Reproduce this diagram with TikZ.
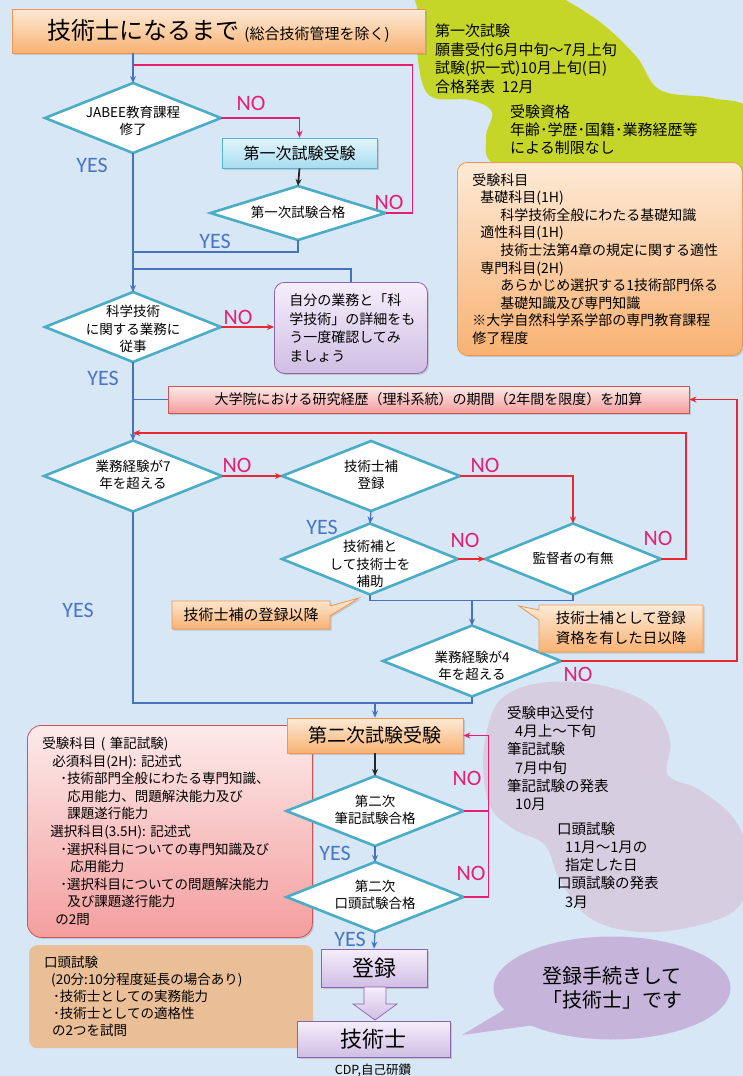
\documentclass[tikz,border=0pt]{standalone}
\usepackage{fontspec}
\setmainfont{Noto Sans CJK JP}
\newfontfamily\yn{Carlito}
\usetikzlibrary{shapes.geometric,shapes.callouts,shadows,arrows.meta}
\newcommand{\myfs}[2]{\fontsize{#1}{#2}\selectfont}
\definecolor{bgblue}{RGB}{216,231,245}
\definecolor{diab}{RGB}{75,172,198}
\definecolor{flowblue}{RGB}{70,115,190}
\definecolor{redl}{RGB}{232,40,50}
\definecolor{pinkl}{RGB}{232,30,110}
\definecolor{yesc}{RGB}{72,118,196}
\definecolor{noc}{RGB}{232,30,115}
\definecolor{greenb}{RGB}{198,214,40}
\definecolor{lavb}{RGB}{214,206,224}
\definecolor{orT}{RGB}{253,234,214}
\definecolor{orB}{RGB}{248,178,115}
\definecolor{orD}{RGB}{240,150,80}
\definecolor{pkT}{RGB}{253,234,234}
\definecolor{pkB}{RGB}{244,158,158}
\definecolor{pkD}{RGB}{205,85,85}
\definecolor{puT}{RGB}{245,238,251}
\definecolor{puB}{RGB}{208,190,228}
\definecolor{puD}{RGB}{140,100,170}
\definecolor{cyT}{RGB}{228,245,252}
\definecolor{cyB}{RGB}{168,220,240}
\definecolor{cyD}{RGB}{80,180,210}
\definecolor{tanb}{RGB}{234,190,150}
\definecolor{bubble}{RGB}{198,180,218}
\tikzset{
  dia/.style={diamond, draw=diab, line width=2.6pt, fill=white, inner sep=0pt, outer sep=0pt},
  dtxt/.style={align=center, font=\myfs{13.5}{17.5}, inner sep=0pt, text=black},
  yes/.style={text=yesc, font=\yn\myfs{22}{22}, inner sep=0pt},
  no/.style={text=noc, font=\yn\myfs{22}{22}, inner sep=0pt},
  bl/.style={draw=flowblue, line width=1.2pt},
  rd/.style={draw=redl, line width=1.2pt},
  pk/.style={draw=pinkl, line width=1.6pt},
  bk/.style={draw=black!85, line width=1.8pt},
  tip/.style={-{Stealth[length=7pt,width=6pt]}},
  shad/.style={drop shadow={shadow xshift=1.5pt,shadow yshift=-1.5pt,opacity=0.3}},
  orbox/.style={draw=orD, line width=0.8pt, top color=orT, bottom color=orB, inner sep=0pt, shad},
  pkbox/.style={draw=pkD, line width=0.8pt, top color=pkT, bottom color=pkB, inner sep=0pt, shad},
  pubox/.style={draw=puD, line width=0.8pt, top color=puT, bottom color=puB, inner sep=0pt, shad},
  cybox/.style={draw=cyD, line width=0.8pt, top color=cyT, bottom color=cyB, inner sep=0pt, shad},
  txtbox/.style={align=left, anchor=north west, inner xsep=15pt, inner ysep=0pt},
  plain/.style={align=left, anchor=north west, inner sep=0pt},
}
\begin{document}
\begin{tikzpicture}[x=1pt,y=-1pt]
\useasboundingbox (0,0) rectangle (743,1076);
\fill[bgblue] (0,0) rectangle (743,1076);
\begin{scope}
\clip (0,0) rectangle (743,1076);
\fill[greenb] plot[smooth cycle, tension=0.6] coordinates {(423,-15) (525,-15) (590,15) (635,55) (660,90) (712,98) (752,112) (752,178) (690,172) (590,168) (498,165) (486,138) (492,112) (470,100) (430,96) (418,60) (418,15)};
\fill[lavb] plot[smooth cycle, tension=0.6] coordinates {(485,740) (500,700) (540,683) (600,685) (650,705) (670,740) (668,775) (700,790) (735,820) (748,860) (740,905) (700,925) (640,932) (590,918) (560,880) (545,845) (515,830) (492,810) (484,780)};
\end{scope}

% title
\node[orbox, minimum width=413pt, minimum height=44pt] (title) at (218.5,31)
  {{\myfs{24}{28}技術士になるまで}\hspace{5pt}{\myfs{15}{18}(総合技術管理を除く)}};

% green blob texts
\node[plain, font=\myfs{15}{18.5}] (g1) at (435,24)
  {第一次試験\\願書受付6月中旬～7月上旬\\試験(択一式)10月上旬(日)\\合格発表\ \ 12月};
\node[plain, font=\myfs{15}{18}] (g2) at (510,105)
  {受験資格\\年齢･学歴･国籍･業務経歴等\\による制限なし};

% orange subjects box
\node[orbox, txtbox, rounded corners=10pt, text width=255pt, minimum height=193pt, font=\myfs{14}{17.6}] (obox) at (457,162)
  {受験科目\\
   \hspace*{8pt}基礎科目(1H)\\
   \hspace*{28pt}科学技術全般にわたる基礎知識\\
   \hspace*{8pt}適性科目(1H)\\
   \hspace*{28pt}技術士法第4章の規定に関する適性\\
   \hspace*{8pt}専門科目(2H)\\
   \hspace*{28pt}あらかじめ選択する1技術部門係る\\
   \hspace*{28pt}基礎知識及び専門知識\\
   ※大学自然科学系学部の専門教育課程\\
   修了程度};

% diamonds
\node[dia, minimum width=176pt, minimum height=70pt] (d1) at (133,118) {};
\node[dtxt] (t1) at (133,121) {JABEE教育課程\\修了};
\node[cybox, minimum width=155pt, minimum height=30pt, font=\myfs{16}{18}] (b1) at (299.5,153) {第一次試験受験};
\node[dia, minimum width=175pt, minimum height=54pt] (d2) at (298,213) {};
\node[dtxt] (t2) at (298,212) {第一次試験合格};
\node[dia, minimum width=176pt, minimum height=70pt] (d3) at (133,327) {};
\node[dtxt] (t3) at (133,329) {科学技術\\に関する業務に\\従事};
\node[pubox, txtbox, rounded corners=10pt, text width=123pt, minimum height=91pt, font=\myfs{14}{18.5}] (pbox) at (274,282)
  {自分の業務と「科\\学技術」の詳細をも\\う一度確認してみ\\ましょう};
\node[pkbox, minimum width=521pt, minimum height=27pt, font=\myfs{14}{16}] (ubox) at (428.5,399.5)
  {大学院における研究経歴（理科系統）の期間（2年間を限度）を加算};

\node[dia, minimum width=178pt, minimum height=71pt] (d4) at (133,476) {};
\node[dtxt] (t4) at (133,475) {業務経験が7\\年を超える};
\node[dia, minimum width=178pt, minimum height=70pt] (d5) at (371,476) {};
\node[dtxt] (t5) at (371,475) {技術士補\\登録};
\node[dia, minimum width=176pt, minimum height=71pt] (d6) at (370,559) {};
\node[dtxt] (t6) at (370,564) {技術補と\\して技術士を\\補助};
\node[dia, minimum width=176pt, minimum height=71pt] (d7) at (573,559) {};
\node[dtxt] (t7) at (573,558) {監督者の有無};
\node[dia, minimum width=178pt, minimum height=71pt] (d8) at (472,661) {};
\node[dtxt] (t8) at (472,666) {業務経験が4\\年を超える};

% callouts
\node[rectangle callout, callout absolute pointer={(359,598)}, callout pointer width=10pt, draw=orD, line width=0.8pt, top color=orT, bottom color=orB, minimum width=158pt, minimum height=28pt, inner sep=0pt, font=\myfs{15}{18}, shad] (c1) at (251,615) {技術士補の登録以降};
\node[rectangle callout, callout absolute pointer={(519,606)}, callout pointer width=10pt, draw=orD, line width=0.8pt, top color=orT, bottom color=orB, minimum width=164pt, minimum height=47pt, inner sep=0pt, align=left, font=\myfs{14.5}{20}, shad] (c2) at (621,628.5) {技術士補として登録\\資格を有した日以降};

% pink written exam box
\node[pkbox, txtbox, rounded corners=14pt, text width=255pt, minimum height=212pt, font=\myfs{13.5}{17.6}] (wbox) at (27,725)
  {受験科目 ( 筆記試験)\\
   \hspace*{10pt}必須科目(2H): 記述式\\
   \hspace*{18pt}･技術部門全般にわたる専門知識、\\
   \hspace*{25pt}応用能力、問題解決能力及び\\
   \hspace*{25pt}課題遂行能力\\
   \hspace*{8pt}選択科目(3.5H): 記述式\\
   \hspace*{18pt}･選択科目についての専門知識及び\\
   \hspace*{28pt}応用能力\\
   \hspace*{18pt}･選択科目についての問題解決能力\\
   \hspace*{25pt}及び課題遂行能力\\
   \hspace*{13pt}の2問};
% tan oral exam box
\node[txtbox, fill=tanb, rounded corners=8pt, text width=254pt, minimum height=103pt, font=\myfs{13.5}{17}] (obx) at (29,945)
  {口頭試験\\
   \hspace*{7pt}(20分:10分程度延長の場合あり)\\
   \hspace*{9pt}･技術士としての実務能力\\
   \hspace*{9pt}･技術士としての適格性\\
   \hspace*{8pt}の2つを試問};

% second stage
\node[orbox, minimum width=176pt, minimum height=35pt, font=\myfs{19}{22}] (b2) at (375,735.5) {第二次試験受験};
\node[dia, minimum width=177pt, minimum height=70pt] (d9) at (375,811) {};
\node[dtxt] (t9) at (375,810) {第二次\\筆記試験合格};
\node[dia, minimum width=177pt, minimum height=70pt] (d10) at (375,897) {};
\node[dtxt] (t10) at (375,895) {第二次\\口頭試験合格};
\node[pubox, minimum width=106pt, minimum height=38pt, font=\myfs{22}{24}] (b3) at (374,968) {登録};
\node[pubox, minimum width=153pt, minimum height=36pt, font=\myfs{22}{24}] (b4) at (373.5,1039) {技術士};
\node[inner sep=0pt, font=\myfs{12.5}{14}] (cdp) at (373,1070) {CDP,自己研鑽};
\draw[draw=puD, line width=0.7pt, top color=puT, bottom color=puB] (364,987) -- (386,987) -- (386,1004) -- (397,1004) -- (375,1020) -- (353,1004) -- (364,1004) -- cycle;

% lavender schedule texts
\node[plain, font=\myfs{14.5}{18.2}] (l1) at (507,706)
  {受験申込受付\\\hspace*{8pt}4月上～下旬\\筆記試験\\\hspace*{8pt}7月中旬\\筆記試験の発表\\\hspace*{8pt}10月};
\node[plain, font=\myfs{14.5}{18.2}] (l2) at (557,822)
  {口頭試験\\\hspace*{8pt}11月～1月の\\\hspace*{8pt}指定した日\\口頭試験の発表\\\hspace*{8pt}3月};

% speech bubble
\node[ellipse callout, fill=bubble, minimum width=237pt, minimum height=103pt, callout absolute pointer={(462,1035)}, callout pointer arc=22, align=center, font=\myfs{20}{24}] (bub) at (612,988) {登録手続きして\\「技術士」です};

% junction coordinates
\coordinate (j1) at (133,65);
\coordinate (j2) at (133,252);
\coordinate (j3) at (133,269);
\coordinate (j4) at (133,433);
\coordinate (j5) at (472,600.5);
\coordinate (j6) at (472,703);
\coordinate (j7) at (375,703);

% connectors
\draw[bl,tip] (d1.north |- title.south) -- (d1.north);
\draw[pk] (d2.east) -- ++(27,0) |- (j1);
\draw[pk,tip] (d1.east) -| (b1.north);
\draw[bk,tip] (b1.south) -- (d2.north);
\draw[bl] (d2.south) |- (j2);
\draw[bl,tip] (d1.south) -- (d3.north);
\draw[bl] (pbox.north) |- (j3);
\draw[rd,tip] (d3.east) -- (d3.east -| pbox.west);
\draw[bl,tip] (d3.south) -- (d4.north);
\draw[bl] (ubox.west) -- (ubox.west -| d3.south);
\draw[rd,tip] (d4.east) -- (d5.west);
\draw[rd,tip] (d5.east) -| (d7.north);
\draw[bl,tip] (d5.south) -- (d6.north);
\draw[rd,tip] (d6.east) -- (d7.west);
\draw[rd,tip] (d7.east) -- ++(25,0) |- (j4);
\draw[bl] (d6.south) -- ++(0,6) -| (d7.south);
\draw[bl,tip] (j5) -- (d8.north);
\draw[rd,tip] (d8.east) -- ++(176,0) |- (ubox.east);
\draw[bl] (d4.south) |- (j6) -- (d8.south);
\draw[bl,tip] (j7) -- (b2.north);
\draw[bk,tip] (b2.south) -- (d9.north);
\draw[bl,tip] (d9.south) -- (d10.north);
\draw[pk] (d9.east) -- ++(25,0);
\draw[pk,tip] (d10.east) -- ++(25,0) |- (b2.east);
\draw[bl,tip] (d10.south) -- (b3.north);

% YES / NO labels
\node[no] (n1) at (251,103) {NO};
\node[yes] (y1) at (92,165) {YES};
\node[no] (n2) at (389,202) {NO};
\node[yes] (y2) at (215,241) {YES};
\node[no] (n3) at (238,317) {NO};
\node[yes] (y3) at (103,378) {YES};
\node[no] (n4) at (237,465) {NO};
\node[no] (n5) at (485,465) {NO};
\node[yes] (y4) at (322,527) {YES};
\node[no] (n6) at (465,540) {NO};
\node[no] (n7) at (658,538) {NO};
\node[yes] (y5) at (78,610) {YES};
\node[no] (n8) at (578,674) {NO};
\node[no] (n9) at (467,778) {NO};
\node[no] (n10) at (471,873) {NO};
\node[yes] (y6) at (335,853) {YES};
\node[yes] (y7) at (350,939) {YES};
\end{tikzpicture}
\end{document}
